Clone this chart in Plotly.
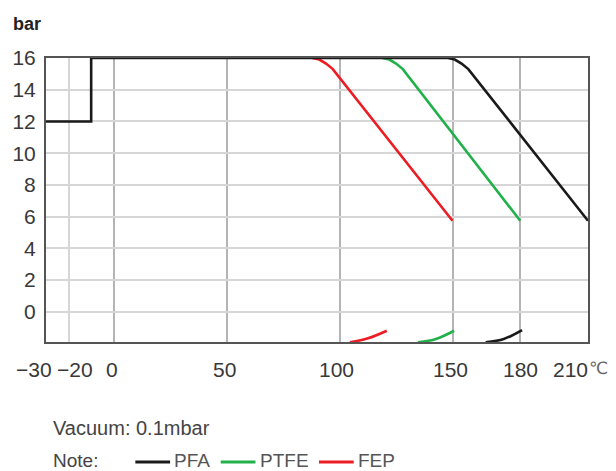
import plotly.graph_objects as go

# ---- data ----
pfa_x = [-30, -10, -10, 148, 151, 154, 157, 210]
pfa_y = [12, 12, 16, 16, 15.9, 15.65, 15.3, 5.74]
ptfe_x = [119, 122, 125, 128, 180]
ptfe_y = [16, 15.9, 15.65, 15.3, 5.74]
fep_x = [88, 91, 94, 97, 150]
fep_y = [16, 15.9, 15.65, 15.3, 5.74]

# vacuum (0.1 mbar) curves drawn in the band below 0
pfa_vac_x = [164.7, 172.7, 180.8]
pfa_vac_y = [-1.92, -1.71, -1.15]
ptfe_vac_x = [134.7, 142.7, 150.7]
ptfe_vac_y = [-1.92, -1.71, -1.19]
fep_vac_x = [104.6, 112.6, 120.9]
fep_vac_y = [-1.92, -1.67, -1.19]

y_ticks = [0, 2, 4, 6, 8, 10, 12, 14, 16]
x_ticks = [-30, -20, 0, 50, 100, 150, 180, 210]
x_tick_text = ["\u221230", "\u221220", "0", "50", "100", "150", "180", "210"]
x_grid_major = [0, 50, 100, 150, 180]
x_grid_minor = [-20]

series_names = ["PFA", "PTFE", "FEP"]
series_colors = ["#1a1a1a", "#22b04b", "#ec1c24"]

# ---- layout constants ----
W, H = 616, 471
L, R, T, B = 42, 28, 58, 129
PW, PH = W - L - R, H - T - B
FONT = "Liberation Sans, Arial, sans-serif"


def px_to_paper_x(px):
    return (px - L) / PW


def py_to_paper_y(py):
    return (H - B - py) / PH


fig = go.Figure()

main_sets = [(pfa_x, pfa_y), (ptfe_x, ptfe_y), (fep_x, fep_y)]
vac_sets = [(pfa_vac_x, pfa_vac_y), (ptfe_vac_x, ptfe_vac_y), (fep_vac_x, fep_vac_y)]

# draw FEP and PTFE under PFA so the black top line stays on top
for i in [2, 1, 0]:
    xs, ys = main_sets[i]
    fig.add_trace(go.Scatter(x=xs, y=ys, mode="lines", name=series_names[i],
                             line=dict(color=series_colors[i], width=2.6),
                             showlegend=False, hoverinfo="skip"))
for i in [2, 1, 0]:
    xs, ys = vac_sets[i]
    fig.add_trace(go.Scatter(x=xs, y=ys, mode="lines", name=series_names[i] + " vacuum",
                             line=dict(color=series_colors[i], width=2.6, shape="spline"),
                             showlegend=False, hoverinfo="skip"))

fig.update_xaxes(range=[-30, 210], showticklabels=False, ticks="",
                 tickmode="array", tickvals=x_grid_major,
                 showgrid=True, gridcolor="#b4b4b4", gridwidth=1.6,
                 minor=dict(tickmode="array", tickvals=x_grid_minor, showgrid=True,
                            gridcolor="#d6d6d6", gridwidth=1.6, ticks=""),
                 showline=True, linecolor="#555555", linewidth=2, mirror=True,
                 zeroline=False, fixedrange=True)
fig.update_yaxes(range=[-1.9, 16], tickmode="array", tickvals=y_ticks,
                 ticktext=[str(v) for v in y_ticks], ticks="",
                 tickfont=dict(family=FONT, size=21, color="#383838"),
                 showgrid=True, gridcolor="#d6d6d6", gridwidth=1.6,
                 showline=True, linecolor="#555555", linewidth=2, mirror=True,
                 zeroline=False, fixedrange=True, ticklabelstandoff=4)

annotations = []
x_shifts = [-12, 6, -2, -2, -3, -2, 0, -18]
for v, t, s in zip(x_ticks, x_tick_text, x_shifts):
    annotations.append(dict(x=v, y=0, xref="x", yref="paper", text=t, showarrow=False,
                            xanchor="center", yanchor="middle", xshift=s, yshift=-27,
                            font=dict(family=FONT, size=21, color="#383838")))
annotations.append(dict(x=px_to_paper_x(587), y=py_to_paper_y(368), xref="paper", yref="paper",
                        text="\u2103", showarrow=False, xanchor="left", yanchor="middle",
                        font=dict(family="DejaVu Sans, sans-serif", size=17, color="#666666")))
annotations.append(dict(x=px_to_paper_x(7), y=py_to_paper_y(24), xref="paper", yref="paper",
                        text="<b>bar</b>", showarrow=False, xanchor="left", yanchor="middle",
                        font=dict(family=FONT, size=18, color="#222222")))
annotations.append(dict(x=px_to_paper_x(47), y=py_to_paper_y(428), xref="paper", yref="paper",
                        text="Vacuum: 0.1mbar", showarrow=False, xanchor="left", yanchor="middle",
                        font=dict(family=FONT, size=20, color="#444444")))
annotations.append(dict(x=px_to_paper_x(47), y=py_to_paper_y(460), xref="paper", yref="paper",
                        text="Note:", showarrow=False, xanchor="left", yanchor="middle",
                        font=dict(family=FONT, size=19, color="#444444")))

shapes = []
legend_line_px = [(132, 167), (218, 253), (317, 352)]
legend_text_px = [169, 256, 354]
for i in range(3):
    x0, x1 = legend_line_px[i]
    shapes.append(dict(type="line", xref="paper", yref="paper",
                       x0=px_to_paper_x(x0), x1=px_to_paper_x(x1),
                       y0=py_to_paper_y(462), y1=py_to_paper_y(462),
                       line=dict(color=series_colors[i], width=3)))
    annotations.append(dict(x=px_to_paper_x(legend_text_px[i]), y=py_to_paper_y(460),
                            xref="paper", yref="paper", text=series_names[i], showarrow=False,
                            xanchor="left", yanchor="middle",
                            font=dict(family=FONT, size=19, color="#555555")))

fig.update_layout(width=W, height=H, margin=dict(l=L, r=R, t=T, b=B, pad=0),
                  plot_bgcolor="white", paper_bgcolor="white",
                  annotations=annotations, shapes=shapes, showlegend=False)

fig.write_html("out.html", config={"displayModeBar": False},
               post_script="document.body.style.margin='0';document.body.style.overflow='hidden';")
